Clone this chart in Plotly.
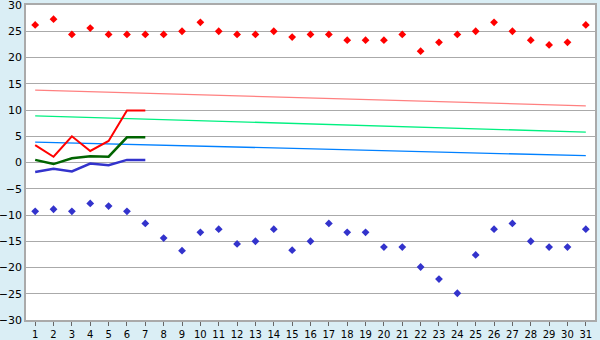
import plotly.graph_objects as go

days = list(range(1, 32))
max_temps = [26.2, 27.3, 24.4, 25.6, 24.4, 24.4, 24.4, 24.4, 25.0, 26.7,
             25.0, 24.4, 24.4, 25.0, 23.9, 24.4, 24.4, 23.3, 23.3, 23.3,
             24.4, 21.2, 22.9, 24.4, 25.0, 26.7, 25.0, 23.3, 22.4, 22.9, 26.2]
min_temps = [-9.3, -8.9, -9.3, -7.8, -8.3, -9.3, -11.6, -14.4, -16.8, -13.3,
             -12.7, -15.5, -15.0, -12.7, -16.7, -15.0, -11.6, -13.3, -13.3, -16.1,
             -16.1, -19.9, -22.2, -24.9, -17.6, -12.7, -11.6, -15.0, -16.1, -16.1, -12.7]

cur_days = [1, 2, 3, 4, 5, 6, 7]
cur_max = [3.3, 1.1, 5.0, 2.2, 4.1, 9.9, 9.9]
cur_mean = [0.5, -0.3, 0.8, 1.2, 1.1, 4.8, 4.8]
cur_min = [-1.8, -1.2, -1.7, -0.2, -0.5, 0.5, 0.5]

norm_days = [1, 31]
norm_max = [13.8, 10.8]
norm_mean = [8.9, 5.8]
norm_min = [3.9, 1.3]

fig = go.Figure()
fig.add_trace(go.Scatter(x=norm_days, y=norm_max, mode="lines",
                         line=dict(color="#ff8080", width=1.3)))
fig.add_trace(go.Scatter(x=norm_days, y=norm_mean, mode="lines",
                         line=dict(color="#00f080", width=1.3)))
fig.add_trace(go.Scatter(x=norm_days, y=norm_min, mode="lines",
                         line=dict(color="#0080ff", width=1.3)))
fig.add_trace(go.Scatter(x=cur_days, y=cur_max, mode="lines",
                         line=dict(color="#ff0000", width=2)))
fig.add_trace(go.Scatter(x=cur_days, y=cur_mean, mode="lines",
                         line=dict(color="#006400", width=2.5)))
fig.add_trace(go.Scatter(x=cur_days, y=cur_min, mode="lines",
                         line=dict(color="#3333cc", width=2.5)))
fig.add_trace(go.Scatter(x=days, y=max_temps, mode="markers",
                         marker=dict(color="#ff0000", symbol="diamond", size=6)))
fig.add_trace(go.Scatter(x=days, y=min_temps, mode="markers",
                         marker=dict(color="#3333cc", symbol="diamond", size=6)))

fig.update_layout(
    width=600, height=340,
    margin=dict(l=26, r=5, t=5, b=20, autoexpand=False),
    paper_bgcolor="#daeef5",
    plot_bgcolor="#ffffff",
    showlegend=False,
    font=dict(family="DejaVu Sans", size=11, color="#000000"),
)
fig.update_xaxes(range=[0.5, 31.5], tickmode="array", tickvals=days,
                 ticks="outside", ticklen=4, tickcolor="#666666",
                 tickfont=dict(size=10), ticklabeloverflow="allow",
                 showgrid=False, zeroline=False, automargin=False,
                 showline=True, linecolor="#aaaaaa", linewidth=1.5, mirror=True)
fig.update_yaxes(range=[-30, 30], tickmode="linear", tick0=-30, dtick=5,
                 showgrid=True, gridcolor="#aaaaaa", gridwidth=1,
                 tickfont=dict(size=11), ticklabeloverflow="allow",
                 zeroline=False, ticks="", ticklen=0, automargin=False,
                 showline=True, linecolor="#aaaaaa", linewidth=1.5, mirror=True)

fig.write_html("out.html")
